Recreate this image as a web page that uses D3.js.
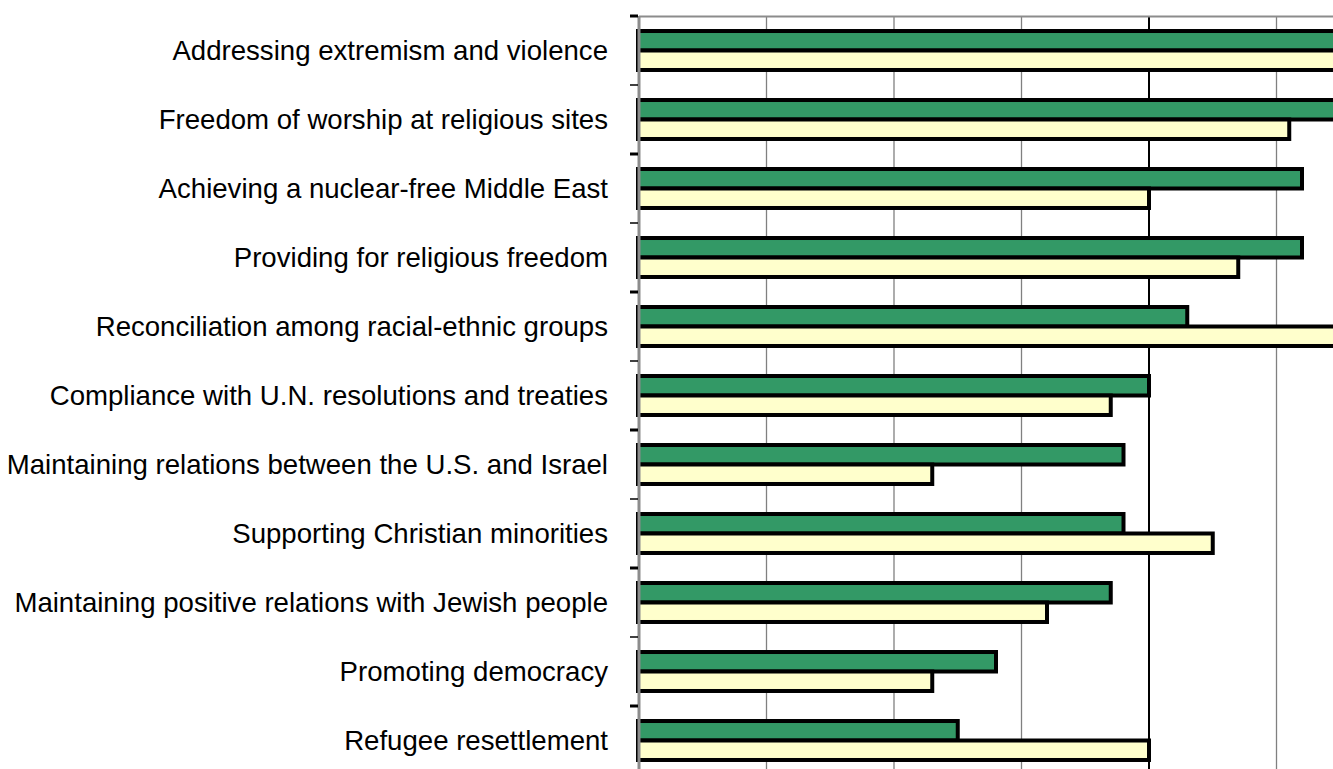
<!DOCTYPE html>
<html>
<head>
<meta charset="utf-8">
<script src="https://cdn.jsdelivr.net/npm/d3@7"></script>
<style>
  body { margin: 0; background: #fff; }
  svg { display: block; }
  .label { font-family: "Liberation Sans", Arial, sans-serif; font-size: 27.6px; fill: #000; }
</style>
</head>
<body>
<div id="canvas"></div>
<script>
// categories, top to bottom
var categories = [
  "Addressing extremism and violence",
  "Freedom of worship at religious sites",
  "Achieving a nuclear-free Middle East",
  "Providing for religious freedom",
  "Reconciliation among racial-ethnic groups",
  "Compliance with U.N. resolutions and treaties",
  "Maintaining relations between the U.S. and Israel",
  "Supporting Christian minorities",
  "Maintaining positive relations with Jewish people",
  "Promoting democracy",
  "Refugee resettlement"
];

// two series (green on top, pale yellow below)
var series = ["green", "yellow"];
var greenValues  = [58, 56, 52, 52, 43, 40, 38, 38, 37, 28, 25];
var yellowValues = [57, 51, 40, 47, 56, 37, 23, 45, 32, 23, 40];
var tickValues = [0, 10, 20, 30, 40, 50, 60];

var w = 1333, h = 769;

var svg = d3.select("#canvas")
  .append("svg")
  .attr("width", w)
  .attr("height", h);

// plot area runs off the right and bottom of the picture
var x = d3.scaleLinear().domain([0, 60]).range([639, 639 + 6 * 127.5]);
var y = d3.scaleBand().domain(categories).range([16, 16 + 69 * categories.length]);
var sub = d3.scaleBand().domain(series).range([0, y.bandwidth()]).paddingOuter(0.77);

// gridlines
svg.append("g")
  .selectAll("line")
  .data(tickValues.slice(1))
  .join("line")
  .attr("x1", d => x(d))
  .attr("x2", d => x(d))
  .attr("y1", 16)
  .attr("y2", h)
  .attr("stroke", d => d == 40 ? "#000" : "#808080")
  .attr("stroke-width", d => d == 40 ? 2 : 1.3);

// top border of plot
svg.append("line")
  .attr("x1", 639).attr("x2", w)
  .attr("y1", 16.5).attr("y2", 16.5)
  .attr("stroke", "#8c8c8c")
  .attr("stroke-width", 2);

// bars
var rows = categories.map((c, i) => ({ cat: c, green: greenValues[i], yellow: yellowValues[i] }));

var groups = svg.append("g")
  .selectAll("g")
  .data(rows)
  .join("g")
  .attr("transform", d => "translate(0," + y(d.cat) + ")");

groups.selectAll("rect")
  .data(d => series.map(s => ({ key: s, value: d[s] })))
  .join("rect")
  .attr("x", x(0) - 1)
  .attr("y", d => sub(d.key))
  .attr("width", d => x(d.value) - x(0) + 1)
  .attr("height", sub.bandwidth())
  .attr("fill", d => d.key == "green" ? "#339966" : "#ffffcc")
  .attr("stroke", "#000")
  .attr("stroke-width", 4);

// category axis
var yAxis = svg.append("g")
  .attr("transform", "translate(639,0)");

yAxis.append("line")
  .attr("x1", 0).attr("x2", 0)
  .attr("y1", 16).attr("y2", h)
  .attr("stroke", "#8c8c8c")
  .attr("stroke-width", 3);

yAxis.selectAll(".tick")
  .data(d3.range(categories.length + 1))
  .join("line")
  .attr("class", "tick")
  .attr("x1", -9).attr("x2", -1)
  .attr("y1", d => 16 + d * y.step())
  .attr("y2", d => 16 + d * y.step())
  .attr("stroke", "#000")
  .attr("stroke-width", d => d % 2 == 0 ? 3 : 1.5);

svg.append("g")
  .selectAll("text")
  .data(categories)
  .join("text")
  .attr("class", "label")
  .attr("x", 608)
  .attr("y", d => y(d) + y.bandwidth() / 2)
  .attr("dy", "0.35em")
  .attr("text-anchor", "end")
  .text(d => d);
</script>
</body>
</html>
